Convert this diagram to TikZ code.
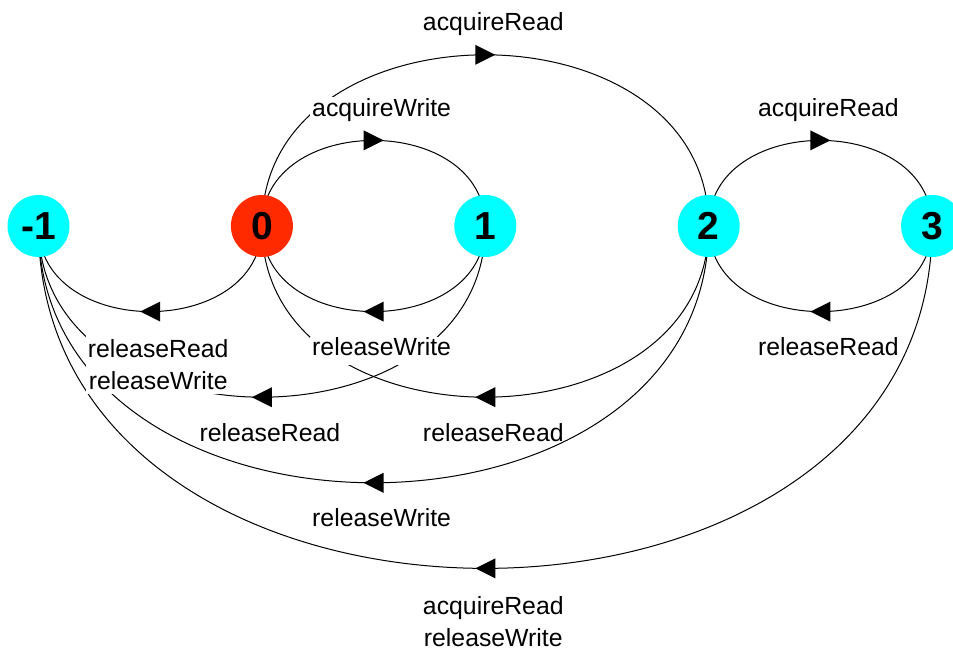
\documentclass[tikz,border=0pt]{standalone}
\usepackage{fontspec}
\setmainfont{Liberation Sans}
\definecolor{statecyan}{RGB}{0, 255, 255}
\definecolor{statered}{RGB}{255, 42, 0}
\usetikzlibrary{decorations.markings, backgrounds}

\begin{document}
\begin{tikzpicture}[x=0.5pt, y=0.5pt,
  state/.style={circle, fill=statecyan, minimum size=31pt, inner sep=0pt, font=\fontsize{19.5}{20}\selectfont\bfseries},
  trans/.style={line width=0.5pt, looseness=1.31, postaction={decorate},
    decoration={markings, mark=at position 0.5 with {\fill (5pt,0pt) -- (-5pt,5pt) -- (-5pt,-5pt) -- cycle;}}},
  over/.style={trans, out=90, in=90},
  under/.style={trans, out=-90, in=-90},
  lblbase/.style={fill=white, inner xsep=1pt, inner ysep=2pt, xshift=4pt, font=\fontsize{12.4}{16}\selectfont, align=center},
  lbl/.style={lblbase, text height=0.75em, text depth=0.25em},
  lblup/.style={lbl, yshift=14.5pt},
  lbldown/.style={lbl, yshift=-19.5pt},
  lbldowntwo/.style={lblbase, yshift=-26.5pt}]
  \useasboundingbox (0,0) rectangle (953,649);

  \node[state] (sm1) at (38.5, 423) {-1};
  \node[state, fill=statered] (s0) at (261.9, 423) {0};
  \node[state] (s1) at (485.3, 423) {1};
  \node[state] (s2) at (708.7, 423) {2};
  \node[state] (s3) at (932.1, 423) {3};

  \begin{scope}[on background layer]
    \draw[over] (s0.center) to node[lblup] (l02) {acquireRead} (s2.center);
    \draw[over] (s0.center) to node[lblup] (l01) {acquireWrite} (s1.center);
    \draw[over] (s2.center) to node[lblup] (l23) {acquireRead} (s3.center);
    \draw[under] (s3.center) to node[lbldown] (l32) {releaseRead} (s2.center);
    \draw[under] (s2.center) to node[lbldown] (l20) {releaseRead} (s0.center);
    \draw[under] (s1.center) to node[lbldown] (l1m) {releaseRead} (sm1.center);
    \draw[under] (s2.center) to node[lbldown] (l2m) {releaseWrite} (sm1.center);
    \draw[under] (s3.center) to node[lbldowntwo] (l3m) {acquireRead\\releaseWrite} (sm1.center);
    \draw[under] (s1.center) to node[lbldown] (l10) {releaseWrite} (s0.center);
    \draw[under] (s0.center) to node[lbldowntwo] (l0m) {releaseRead\\releaseWrite} (sm1.center);
  \end{scope}
\end{tikzpicture}
\end{document}
